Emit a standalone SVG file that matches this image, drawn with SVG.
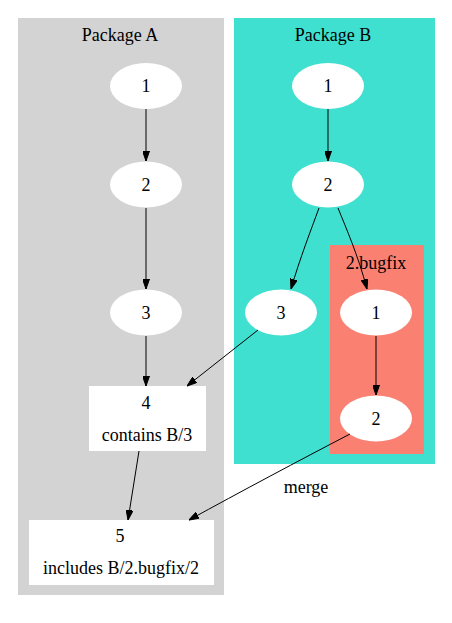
<svg xmlns="http://www.w3.org/2000/svg" width="452" height="623" viewBox="0 0 452 623">
<defs>
<style>
text{font-family:'Liberation Serif','Times New Roman',serif;font-size:18px;fill:#000;text-anchor:middle}
.n{fill:#fff;stroke:none}
.e{fill:none;stroke:#000;stroke-width:1}
</style>
<marker id="arr" viewBox="0 0 10 7" refX="10" refY="3.5" markerWidth="10" markerHeight="7" markerUnits="userSpaceOnUse" orient="auto">
<path d="M0,0 L10,3.5 L0,7 z" fill="#000" stroke="#000" stroke-width="1"/>
</marker>
</defs>
<rect width="452" height="623" fill="#fff"/>
<g id="clusterA">
<rect x="18" y="18" width="206" height="577" fill="#d3d3d3"/>
<text x="120" y="41">Package A</text>
</g>
<g id="clusterB">
<rect x="234" y="18" width="201" height="446" fill="#40e0d0"/>
<text x="333" y="41">Package B</text>
</g>
<g id="clusterBugfix">
<rect x="330" y="245" width="94" height="209" fill="#fa8072"/>
<text x="376" y="269">2.bugfix</text>
</g>
<g id="A1"><ellipse class="n" cx="146" cy="86" rx="36" ry="23"/><text x="146" y="92">1</text></g>
<g id="A2"><ellipse class="n" cx="146" cy="184.5" rx="36" ry="23"/><text x="146" y="190.5">2</text></g>
<g id="A3"><ellipse class="n" cx="146" cy="312.5" rx="36" ry="23"/><text x="146" y="318.5">3</text></g>
<g id="A4"><rect class="n" x="89" y="386" width="117" height="65"/><text x="146" y="409">4</text><text x="147" y="441">contains B/3</text></g>
<g id="A5"><rect class="n" x="29" y="520" width="185" height="65"/><text x="120" y="542">5</text><text x="121" y="574">includes B/2.bugfix/2</text></g>
<g id="B1"><ellipse class="n" cx="328" cy="86" rx="36" ry="23"/><text x="328" y="92">1</text></g>
<g id="B2"><ellipse class="n" cx="328" cy="184.5" rx="36" ry="23"/><text x="328" y="190.5">2</text></g>
<g id="B3"><ellipse class="n" cx="281" cy="312.5" rx="36" ry="23"/><text x="281" y="318.5">3</text></g>
<g id="BF1"><ellipse class="n" cx="376" cy="312.5" rx="36" ry="23"/><text x="376" y="318.5">1</text></g>
<g id="BF2"><ellipse class="n" cx="376" cy="418.5" rx="36" ry="23"/><text x="376" y="424.5">2</text></g>
<g id="edges">
<path class="e" marker-end="url(#arr)" d="M146,109 L146,161"/>
<path class="e" marker-end="url(#arr)" d="M146,208 L146,289"/>
<path class="e" marker-end="url(#arr)" d="M146,336 L146,386"/>
<path class="e" marker-end="url(#arr)" d="M328,109 L328,161"/>
<path class="e" marker-end="url(#arr)" d="M319,208 C311,230 300,258 291,289"/>
<path class="e" marker-end="url(#arr)" d="M338,208 C346,228 358,255 367,289"/>
<path class="e" marker-end="url(#arr)" d="M376,336 L376,395"/>
<path class="e" marker-end="url(#arr)" d="M258,330 L187,386"/>
<path class="e" marker-end="url(#arr)" d="M139,451 L128,520"/>
<path class="e" marker-end="url(#arr)" d="M350,434 C300,460 240,492 189,520"/>
<text x="306" y="493">merge</text>
</g>
</svg>
